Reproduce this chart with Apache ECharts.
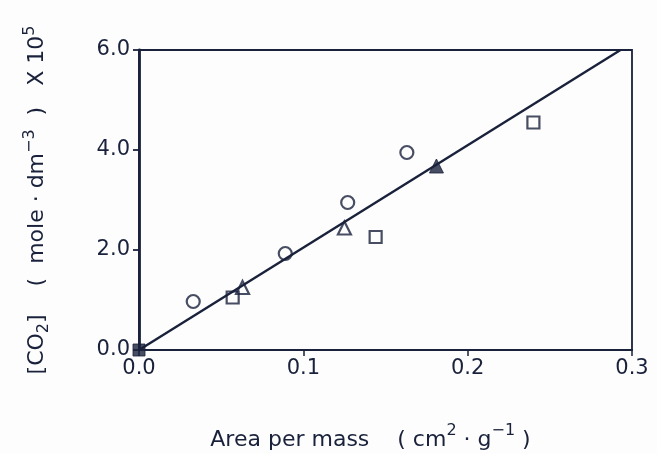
<!DOCTYPE html>
<html>
<head>
<meta charset="utf-8">
<script src="https://cdn.jsdelivr.net/npm/echarts@6/dist/echarts.min.js"></script>
<style>html,body{margin:0;padding:0;background:#fdfdfd;}#c{width:657px;height:454px;}</style>
</head>
<body>
<div id="c"></div>
<script>
// Data
var xTicks = [0.0, 0.1, 0.2, 0.3];
var yTicks = [0.0, 2.0, 4.0, 6.0];
var circlePoints = [[0.033, 0.97], [0.089, 1.93], [0.127, 2.95], [0.163, 3.95]];
var squarePoints = [[0.057, 1.05], [0.144, 2.26], [0.240, 4.55]];
var trianglePoints = [[0.063, 1.25], [0.125, 2.44]];
var filledTrianglePoints = [[0.181, 3.68]];
var filledSquarePoints = [[0.0, 0.0]];
var fitLine = [[0.0, 0.0], [0.293, 6.0]];

var ink = '#19213b';
var chart = echarts.init(document.getElementById('c'));
var open = {color: 'rgba(0,0,0,0)', borderColor: ink, borderWidth: 2.2};
var filled = {color: ink, borderColor: ink, borderWidth: 1};
chart.setOption({
  backgroundColor: '#fdfdfd',
  animation: false,
  grid: {left: 139, right: 25, top: 50, bottom: 104, containLabel: false, outerBoundsMode: 'none',
    show: true, borderColor: ink, borderWidth: 1.8, backgroundColor: 'transparent'},
  xAxis: {
    type: 'value', min: xTicks[0], max: xTicks[xTicks.length - 1], interval: 0.1,
    axisLine: {show: true, lineStyle: {color: ink, width: 1.8}},
    axisTick: {show: true, inside: false, length: 6, lineStyle: {color: ink, width: 1.5}},
    splitLine: {show: false},
    axisLabel: {color: ink, fontFamily: 'DejaVu Sans', fontSize: 21, margin: 8,
      formatter: function (v) { return v.toFixed(1); }},
    name: '{t|Area per mass    ( cm}{sup|2}{t| · g}{sup|−1}{t| )}',
    nameLocation: 'middle', nameGap: 73,
    nameTextStyle: {padding: [0, 30, 0, 0], rich: {
      t: {fontFamily: 'DejaVu Sans', fontSize: 22, color: ink, lineHeight: 28, verticalAlign: 'bottom'},
      sup: {fontFamily: 'DejaVu Sans', fontSize: 16, color: ink, lineHeight: 28, verticalAlign: 'top'}
    }}
  },
  yAxis: {
    type: 'value', min: yTicks[0], max: yTicks[yTicks.length - 1], interval: 2,
    axisLine: {show: true, lineStyle: {color: ink, width: 2.8}},
    axisTick: {show: true, inside: false, length: 6, lineStyle: {color: ink, width: 1.8}},
    splitLine: {show: false},
    axisLabel: {color: ink, fontFamily: 'DejaVu Sans', fontSize: 21, margin: 9,
      formatter: function (v) { return v.toFixed(1); }},
    name: '{t|[CO}{sub|2}{t|]    (  mole · dm}{sup|−3}{t|  )   X 10}{sup|5}',
    nameLocation: 'middle', nameGap: 87, nameRotate: 90,
    nameTextStyle: {rich: {
      t: {fontFamily: 'DejaVu Sans', fontSize: 22, color: ink, lineHeight: 30, verticalAlign: 'middle'},
      sup: {fontFamily: 'DejaVu Sans', fontSize: 16, color: ink, lineHeight: 30, verticalAlign: 'top'},
      sub: {fontFamily: 'DejaVu Sans', fontSize: 16, color: ink, lineHeight: 30, verticalAlign: 'bottom'}
    }}
  },
  series: [
    {type: 'line', data: fitLine, symbol: 'none', lineStyle: {color: ink, width: 2.4}, z: 2},
    {type: 'scatter', data: circlePoints, symbol: 'circle', symbolSize: 13, itemStyle: open, z: 3},
    {type: 'scatter', data: squarePoints, symbol: 'rect', symbolSize: 12, itemStyle: open, z: 3},
    {type: 'scatter', data: trianglePoints, symbol: 'triangle', symbolSize: 13, itemStyle: open, z: 3},
    {type: 'scatter', data: filledTrianglePoints, symbol: 'triangle', symbolSize: 14, itemStyle: filled, z: 3},
    {type: 'scatter', data: filledSquarePoints, symbol: 'rect', symbolSize: 12, itemStyle: filled, clip: false, z: 4}
  ]
});
</script>
</body>
</html>
